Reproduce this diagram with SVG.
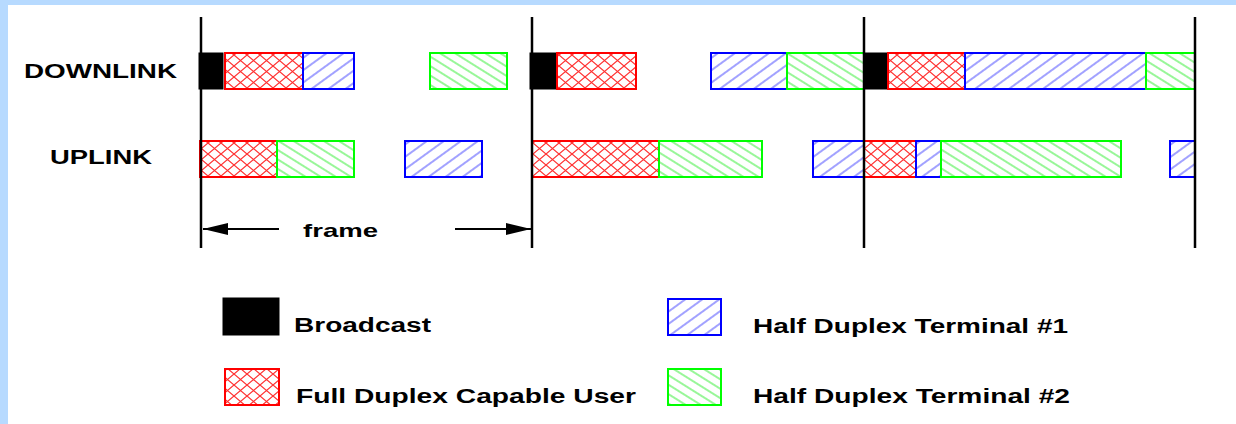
<svg xmlns="http://www.w3.org/2000/svg" width="1236" height="424" viewBox="0 0 1236 424">
<defs>
<pattern id="pRed" patternUnits="userSpaceOnUse" width="13" height="11">
<path d="M0 0 L13 11 M13 0 L0 11" stroke="#FF3030" stroke-width="1.2" fill="none"/>
</pattern>
<pattern id="pBlue" patternUnits="userSpaceOnUse" width="10" height="10" patternTransform="rotate(-36)">
<line x1="0" y1="5" x2="10" y2="5" stroke="#5555FF" stroke-width="1.1"/>
</pattern>
<pattern id="pGreen" patternUnits="userSpaceOnUse" width="8" height="8" patternTransform="rotate(32)">
<line x1="0" y1="4" x2="8" y2="4" stroke="#44EE44" stroke-width="1.1"/>
</pattern>
<marker id="ah" markerWidth="26" markerHeight="12" refX="25" refY="6" orient="auto" markerUnits="userSpaceOnUse">
<path d="M0 0 L25 6 L0 12 Z" fill="#000"/>
</marker>
</defs>
<style>
.bc{fill:#000;stroke:#000;stroke-width:1}
.fd{fill:url(#pRed);stroke:#FF0000;stroke-width:2}
.h1{fill:url(#pBlue);stroke:#0000FF;stroke-width:2}
.h2{fill:url(#pGreen);stroke:#00FF00;stroke-width:2}
.axis{stroke:#000;stroke-width:2.5}
.lbl{font-family:"Liberation Sans",Arial,sans-serif;font-weight:bold;fill:#000}
.conn{stroke:#000;stroke-width:2;fill:none}
</style>
<rect x="0" y="0" width="1236" height="424" fill="#B7DAFF"/>
<rect x="8" y="5" width="1228" height="419" fill="#FFFFFF"/>

<g id="labels">
<text class="lbl" x="24" y="78" font-size="21" textLength="153" lengthAdjust="spacingAndGlyphs">DOWNLINK</text>
<text class="lbl" x="50" y="164" font-size="21" textLength="102" lengthAdjust="spacingAndGlyphs">UPLINK</text>
</g>

<g id="downlink">
<rect class="bc" x="199" y="53" width="24" height="36"/>
<rect class="fd" x="225" y="53" width="78" height="36"/>
<rect class="h1" x="303" y="53" width="51" height="36"/>
<rect class="h2" x="430" y="53" width="77" height="36"/>
<rect class="bc" x="530" y="53" width="26" height="36"/>
<rect class="fd" x="557" y="53" width="79" height="36"/>
<rect class="h1" x="711" y="53" width="76" height="36"/>
<rect class="h2" x="787" y="53" width="77" height="36"/>
<rect class="bc" x="864" y="53" width="24" height="36"/>
<rect class="fd" x="888" y="53" width="77" height="36"/>
<rect class="h1" x="965" y="53" width="181" height="36"/>
<rect class="h2" x="1146" y="53" width="49" height="36"/>
</g>

<g id="uplink">
<rect class="fd" x="200" y="141" width="77" height="36"/>
<rect class="h2" x="277" y="141" width="77" height="36"/>
<rect class="h1" x="405" y="141" width="77" height="36"/>
<rect class="fd" x="532" y="141" width="127" height="36"/>
<rect class="h2" x="659" y="141" width="103" height="36"/>
<rect class="h1" x="813" y="141" width="51" height="36"/>
<rect class="fd" x="864" y="141" width="52" height="36"/>
<rect class="h1" x="916" y="141" width="25" height="36"/>
<rect class="h2" x="941" y="141" width="180" height="36"/>
<rect class="h1" x="1170" y="141" width="25" height="36"/>
</g>

<g id="frame-boundaries">
<line class="axis" x1="201" y1="17" x2="201" y2="248"/>
<line class="axis" x1="532" y1="17" x2="532" y2="248"/>
<line class="axis" x1="864" y1="17" x2="864" y2="248"/>
<line class="axis" x1="1195" y1="17" x2="1195" y2="248"/>
</g>

<g id="connectors">
<line class="conn" x1="279" y1="229" x2="203" y2="229" marker-end="url(#ah)"/>
<line class="conn" x1="455" y1="229" x2="531" y2="229" marker-end="url(#ah)"/>
<text class="lbl" x="303" y="237" font-size="19" textLength="75" lengthAdjust="spacingAndGlyphs">frame</text>
</g>

<g id="legend-broadcast">
<rect class="bc" x="223" y="298" width="56" height="37"/>
<text class="lbl" x="294" y="332" font-size="19.5" textLength="137" lengthAdjust="spacingAndGlyphs">Broadcast</text>
</g>
<g id="legend-full-duplex">
<rect class="fd" x="225" y="369" width="54" height="36"/>
<text class="lbl" x="296" y="403" font-size="19.5" textLength="340" lengthAdjust="spacingAndGlyphs">Full Duplex Capable User</text>
</g>
<g id="legend-hd1">
<rect class="h1" x="668" y="299" width="53" height="36"/>
<text class="lbl" x="753" y="333" font-size="19.5" textLength="315" lengthAdjust="spacingAndGlyphs">Half Duplex Terminal #1</text>
</g>
<g id="legend-hd2">
<rect class="h2" x="668" y="369" width="53" height="36"/>
<text class="lbl" x="753" y="403" font-size="19.5" textLength="317" lengthAdjust="spacingAndGlyphs">Half Duplex Terminal #2</text>
</g>
</svg>
